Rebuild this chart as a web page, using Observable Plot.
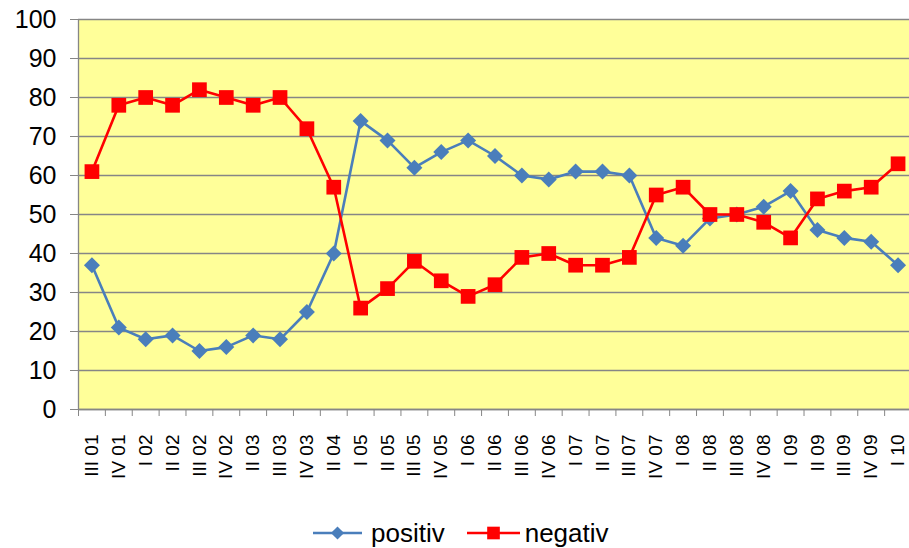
<!DOCTYPE html>
<html><head><meta charset="utf-8">
<script src="https://cdn.jsdelivr.net/npm/d3@7"></script>
<script src="https://cdn.jsdelivr.net/npm/@observablehq/plot@0.6"></script>
<style>
body{margin:0;background:#fff;font-family:"Liberation Sans",Arial,sans-serif;}
#chart{width:909px;height:548px;overflow:hidden;}
.legend{height:38px;box-sizing:border-box;padding-top:8px;display:flex;align-items:center;padding-left:313px;font-size:26px;color:#000;line-height:1;}
.legend span{display:inline-block;}
</style></head><body><div id="chart"></div>
<script>
const categories = ["III 01","IV 01","I 02","II 02","III 02","IV 02","II 03","III 03","IV 03","II 04","I 05","II 05","III 05","IV 05","I 06","II 06","III 06","IV 06","I 07","II 07","III 07","IV 07","I 08","II 08","III 08","IV 08","I 09","II 09","III 09","IV 09","I 10"];
const positiv = [37,21,18,19,15,16,19,18,25,40,74,69,62,66,69,65,60,59,61,61,60,44,42,49,50,52,56,46,44,43,37];
const negativ = [61,78,80,78,82,80,78,80,72,57,26,31,38,33,29,32,39,40,37,37,39,55,57,50,50,48,44,54,56,57,63];
const yTicks = [0,10,20,30,40,50,60,70,80,90,100];
const seriesNames = ["positiv","negativ"];
const seriesColors = ["#4A7EBB","#FF0000"];

const idx = categories.map((c,i)=>i);
const bounds = categories.map((c,i)=>i-0.5).concat([categories.length-0.5]);
const table = categories.map((c,i)=>({i, c, positiv: positiv[i], negativ: negativ[i]}));
const gray = "#868686";

const plot = Plot.plot({
  width: 909,
  height: 510,
  marginLeft: 78,
  marginRight: -2,
  marginTop: 19,
  marginBottom: 101,
  style: {background: "#fff", fontFamily: "'Liberation Sans', Arial, sans-serif", color: "#000", overflow: "visible"},
  x: {type: "linear", domain: [-0.5, categories.length - 0.5]},
  y: {domain: [0, 100]},
  marks: [
    Plot.frame({fill: "#FFFF99", stroke: null}),
    Plot.gridY(yTicks, {stroke: gray, strokeOpacity: 1, strokeWidth: 1.6}),
    Plot.ruleX([-0.5], {stroke: gray, strokeWidth: 1.3}),
    Plot.ruleY([0], {stroke: gray, strokeWidth: 1.3}),
    Plot.axisY({ticks: yTicks, tickSize: 8, tickPadding: 14, fontSize: 25, stroke: gray, fill: "#000"}),
    Plot.axisX({ticks: bounds, tickSize: 7, tickFormat: () => "", stroke: gray, label: null}),
    Plot.axisX({ticks: idx, tickSize: 0, tickPadding: 25, tickRotate: -90, fontSize: 19, tickFormat: i => categories[i], fill: "#000", label: null}),
    Plot.line(table, {x: "i", y: "positiv", stroke: seriesColors[0], strokeWidth: 2.6}),
    Plot.dot(table, {x: "i", y: "positiv", symbol: "diamond2", r: 7.2, fill: seriesColors[0], stroke: null}),
    Plot.line(table, {x: "i", y: "negativ", stroke: seriesColors[1], strokeWidth: 2.6}),
    Plot.dot(table, {x: "i", y: "negativ", symbol: "square", r: 8.3, fill: seriesColors[1], stroke: null})
  ]
});
const chart = document.getElementById("chart");
chart.appendChild(plot);

const legend = document.createElement("div");
legend.className = "legend";
function swatch(color, shape, w) {
  const ns = "http://www.w3.org/2000/svg";
  const s = document.createElementNS(ns, "svg");
  s.setAttribute("width", w); s.setAttribute("height", 20);
  s.style.display = "block";
  const l = document.createElementNS(ns, "line");
  l.setAttribute("x1", 0); l.setAttribute("x2", w); l.setAttribute("y1", 10); l.setAttribute("y2", 10);
  l.setAttribute("stroke", color); l.setAttribute("stroke-width", 2.6);
  s.appendChild(l);
  const p = document.createElementNS(ns, "path");
  const sym = shape === "diamond" ? d3.symbol(d3.symbolDiamond2, 110)() : d3.symbol(d3.symbolSquare, 160)();
  p.setAttribute("d", sym); p.setAttribute("fill", color);
  p.setAttribute("transform", `translate(${w/2},10)`);
  s.appendChild(p);
  return s;
}
const sw1 = swatch(seriesColors[0], "diamond", 49);
const t1 = document.createElement("span"); t1.textContent = seriesNames[0]; t1.style.marginLeft = "9px";
const sw2 = swatch(seriesColors[1], "square", 53); sw2.style.marginLeft = "22px";
const t2 = document.createElement("span"); t2.textContent = seriesNames[1]; t2.style.marginLeft = "5px";
legend.append(sw1, t1, sw2, t2);
chart.appendChild(legend);
</script></body></html>
